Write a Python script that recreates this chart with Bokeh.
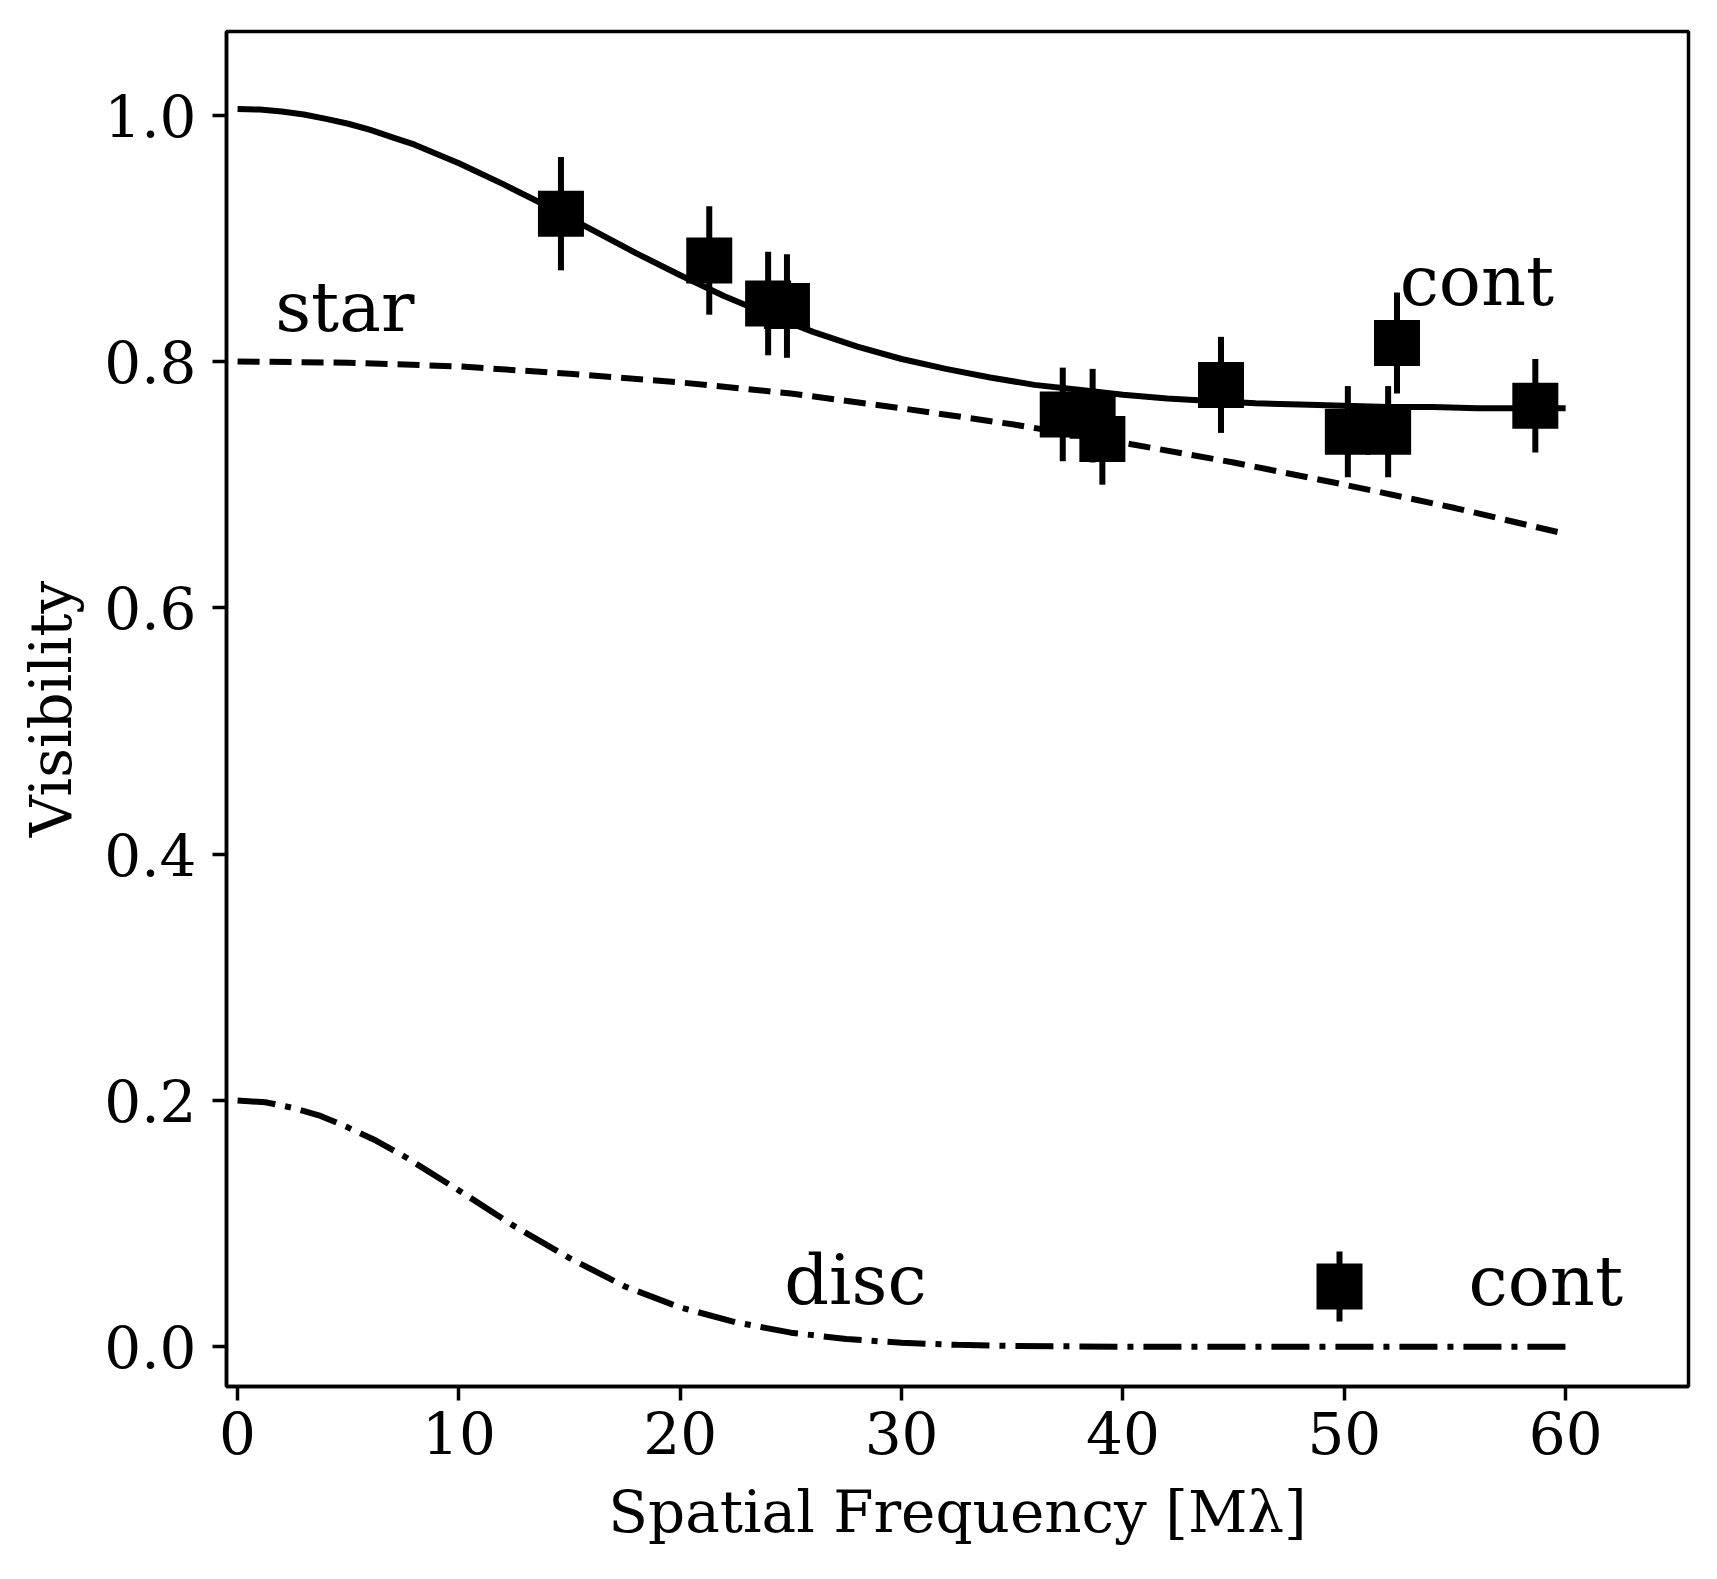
from bokeh.plotting import figure
from bokeh.models import Range1d, FixedTicker, NumeralTickFormatter
from bokeh.core.properties import value
from bokeh.embed import file_html
from bokeh.resources import INLINE

# ---- measured data (continuum visibilities) ----
freq = [14.61, 21.31, 23.97, 24.82, 37.28, 38.63, 39.07, 44.43, 50.16, 51.98, 52.38, 58.63]
vis = [0.920, 0.882, 0.847, 0.845, 0.757, 0.756, 0.737, 0.781, 0.743, 0.743, 0.815, 0.764]
vis_err = [0.046, 0.044, 0.042, 0.042, 0.038, 0.038, 0.037, 0.039, 0.037, 0.037, 0.041, 0.038]

# ---- model curves ----
total_x = [0, 1, 2, 3, 4, 5, 6, 7, 8, 10, 12, 14, 16, 18, 20, 22, 24, 26, 28, 30,
           32, 34, 36, 38, 40, 42, 44, 46, 48, 50, 52, 54, 56, 58, 60]
total_vis = [1.005, 1.0045, 1.003, 1.0005, 0.997, 0.993, 0.988, 0.982, 0.976, 0.961,
             0.944, 0.926, 0.907, 0.888, 0.870, 0.853, 0.838, 0.824, 0.812, 0.802,
             0.794, 0.787, 0.781, 0.777, 0.773, 0.770, 0.768, 0.766, 0.765, 0.764,
             0.763, 0.763, 0.762, 0.762, 0.762]

star_x = [0, 5, 10, 15, 20, 25, 30, 35, 40, 45, 50, 55, 60]
star_vis = [0.800, 0.799, 0.796, 0.790, 0.783, 0.774, 0.762, 0.749, 0.734, 0.718,
            0.700, 0.681, 0.660]

disc_x = [0, 1.25, 2.5, 3.75, 5, 6.25, 7.5, 10, 12.5, 15, 17.5, 20, 22.5, 25, 27.5,
          30, 32.5, 35, 40, 45, 50, 55, 60]
disc_vis = [0.200, 0.1986, 0.194, 0.1875, 0.178, 0.1675, 0.155, 0.127, 0.098, 0.072,
            0.049, 0.032, 0.020, 0.0115, 0.0063, 0.0033, 0.0016, 0.0007, 0.0001,
            0.0, 0.0, 0.0, 0.0]

# ---- labels ----
x_ticks = [0, 10, 20, 30, 40, 50, 60]
y_ticks = [0.0, 0.2, 0.4, 0.6, 0.8, 1.0]
x_label = "Spatial Frequency [M\u03bb]"
y_label = "Visibility"
annot_text = ["star", "cont", "disc"]
annot_x = [1.7, 52.5, 24.7]
annot_y = [0.823, 0.844, 0.033]
legend_label = "cont"

FONT = "DejaVu Serif"
FRAME_W, FRAME_H = 1462, 1355
TEXT_SHIFT = -26  # screen px, aligns glyph baseline

p = figure(frame_width=FRAME_W, frame_height=FRAME_H,
           x_range=Range1d(-0.5, 65.55), y_range=Range1d(-0.0322, 1.0679),
           output_backend="svg", toolbar_location=None,
           min_border_left=226, min_border_top=31, min_border_right=14, min_border_bottom=175)
p.background_fill_color = "white"
p.border_fill_color = "white"
p.outline_line_color = "black"
p.outline_line_width = 3.5
p.xgrid.visible = False
p.ygrid.visible = False

# legend overlay range in frame pixels
p.extra_x_ranges = {"lx": Range1d(0, FRAME_W)}
p.extra_y_ranges = {"ly": Range1d(0, FRAME_H)}

for ax in (p.xaxis[0], p.yaxis[0]):
    ax.axis_line_color = "black"
    ax.axis_line_width = 3.5
    ax.major_tick_line_color = "black"
    ax.major_tick_line_width = 3.5
    ax.major_tick_out = 14
    ax.major_tick_in = 0
    ax.minor_tick_line_color = None
    ax.major_label_text_font = FONT
    ax.major_label_text_font_size = "58px"
    ax.major_label_text_color = "black"
    ax.axis_label_text_font = FONT
    ax.axis_label_text_font_size = "58px"
    ax.axis_label_text_font_style = "normal"
    ax.axis_label_text_color = "black"

p.xaxis.ticker = FixedTicker(ticks=x_ticks)
p.yaxis.ticker = FixedTicker(ticks=y_ticks)
p.yaxis.formatter = NumeralTickFormatter(format="0.0")
p.xaxis.axis_label = x_label
p.yaxis.axis_label = y_label
p.xaxis.major_label_standoff = 10
p.yaxis.major_label_standoff = 16
p.xaxis.axis_label_standoff = 21
p.yaxis.axis_label_standoff = 16

# model curves
p.line(total_x, total_vis, line_color="black", line_width=6)
p.line(star_x, star_vis, line_color="black", line_width=6, line_dash="22 10")
p.line(disc_x, disc_vis, line_color="black", line_width=6, line_dash="38 10 6 10")

# data with error bars
lo = [v - e for v, e in zip(vis, vis_err)]
hi = [v + e for v, e in zip(vis, vis_err)]
p.segment(x0=freq, y0=lo, x1=freq, y1=hi, line_color="black", line_width=6)
p.scatter(freq, vis, marker="square", size=46, fill_color="black", line_color=None)

# annotations
p.text(x=annot_x, y=annot_y, text=annot_text, text_font=value(FONT),
       text_font_size=value("70px"), text_color="black",
       text_align="left", text_baseline="alphabetic", y_offset=TEXT_SHIFT)

# legend (frame-pixel overlay)
LEG_X, LEG_Y, LEG_BAR = 1113, 100, 35
p.segment(x0=[LEG_X], y0=[LEG_Y - LEG_BAR], x1=[LEG_X], y1=[LEG_Y + LEG_BAR],
          line_color="black", line_width=6, x_range_name="lx", y_range_name="ly")
p.scatter([LEG_X], [LEG_Y], marker="square", size=46, fill_color="black", line_color=None,
          x_range_name="lx", y_range_name="ly")
p.text(x=[LEG_X + 129], y=[LEG_Y - 20], text=[legend_label], text_font=value(FONT),
       text_font_size=value("70px"), text_color="black", text_align="left",
       text_baseline="alphabetic", y_offset=TEXT_SHIFT,
       x_range_name="lx", y_range_name="ly")

open("out.html", "w").write(file_html(p, INLINE))
